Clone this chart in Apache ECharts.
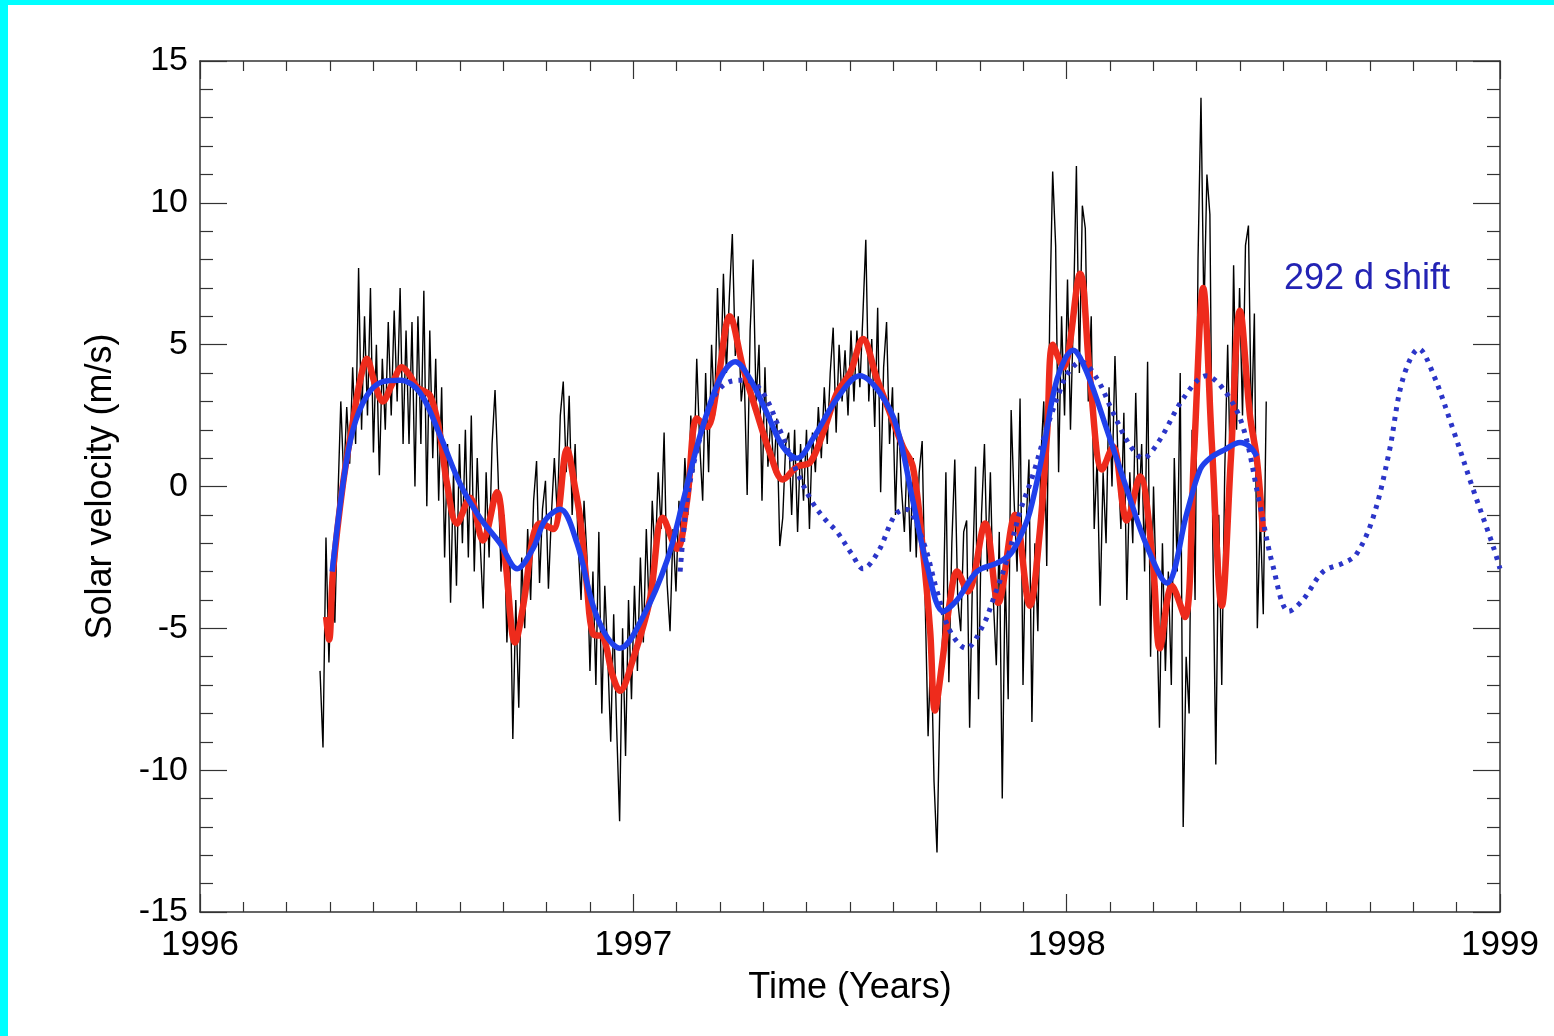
<!DOCTYPE html>
<html>
<head>
<meta charset="utf-8">
<script src="https://cdn.jsdelivr.net/npm/echarts@6/dist/echarts.min.js"></script>
<style>
html,body{margin:0;padding:0;background:#00ffff;width:1554px;height:1036px;overflow:hidden;}
#chart{position:absolute;left:8px;top:5px;width:1546px;height:1031px;background:#ffffff;}
</style>
</head>
<body>
<div id="chart"></div>
<script>
// ---- data ----
var xTickLabels = ['1996', '1997', '1998', '1999'];
var yTickLabels = ['-15', '-10', '-5', '0', '5', '10', '15'];

// raw velocity, sampled every 2.5 days starting 1996.277
var blackStart = 1996.277;
var blackStep = 0.006845;
var blackValues = [
 -6.5, -9.2, -1.8, -6.2, -2.5, -4.8, -0.5, 3.0, 0.2, 2.8,
 0.8, 4.2, 1.5, 7.7, 2.0, 6.0, 2.5, 7.0, 1.2, 5.0,
 0.4, 4.5, 2.0, 5.8, 2.5, 6.2, 3.0, 7.0, 1.5, 5.5,
 1.5, 5.8, 0.0, 6.0, 1.5, 6.9, -0.7, 5.5, 1.0, 4.5,
 -0.5, 3.5, -2.5, 1.5, -4.1, 0.5, -3.5, 1.5, -2.0, 2.0,
 -2.5, 2.5, -3.0, 1.0, -2.0, -4.3, 0.5, -2.5, 1.5, 3.4,
 0.5, -3.0, -1.0, -5.5, -2.5, -8.9, -4.0, -7.8, -2.5, -5.0,
 -1.5, -4.0, -0.5, 0.9, -3.4, -0.8, 0.2, -3.6, -1.0, 1.0,
 -1.0, 2.5, 3.7, 0.5, 3.2, -1.0, 1.5, -2.0, -4.0, -0.5,
 -2.5, -6.5, -3.0, -7.0, -1.6, -8.0, -3.5, -6.0, -9.0, -4.5,
 -8.5, -11.8, -5.0, -9.5, -4.0, -7.5, -3.5, -6.5, -2.5, -5.5,
 -1.5, -4.5, -0.5, -2.6, 0.5, -1.5, 1.9, -3.4, -5.1, -1.5,
 -3.7, -0.5, -2.0, 1.0, -1.0, 2.5, 0.5, 4.5, 1.5, -0.5,
 4.0, 0.5, 5.0, 2.5, 7.0, 3.5, 7.5, 4.0, 6.7, 8.9,
 4.6, 6.0, 3.0, 4.0, -0.3, 5.5, 8.0, 3.0, 5.0, -0.5,
 4.2, 0.7, 2.5, 0.5, 2.4, -2.1, -1.1, 1.5, 1.9, -1.0,
 2.0, -1.6, 1.5, -0.5, 2.0, -1.5, 1.9, 0.5, 2.8, 1.0,
 3.5, 1.5, 4.0, 5.6, 1.9, 5.0, 3.0, 4.8, 2.5, 5.5,
 3.0, 5.5, 3.5, 6.0, 8.7, 3.0, 5.2, 2.1, 6.3, -0.2,
 4.2, 5.8, 1.5, 3.5, -1.0, 2.6, 0.0, -1.6, 1.2, -2.3,
 1.0, -2.5, 0.5, 1.6, -4.0, -8.8, -5.5, -10.4, -12.9, -7.5,
 -5.0, 0.5, -6.9, -2.0, 0.95, -4.0, -5.1, -1.6, -1.2, -8.5,
 -3.0, 0.7, -7.5, -1.0, 1.5, -3.0, 0.5, -4.0, -6.3, -1.6,
 -11.0, -3.0, -7.5, 2.7, -0.5, -3.0, 3.1, -7.0, -1.5, 0.95,
 -8.3, -2.0, -5.1, 1.0, 3.0, -2.8, 6.0, 11.1, 8.5, 0.5,
 6.0, 2.5, 7.3, 2.0, 6.1, 11.3, 4.0, 9.9, 9.1, 3.0,
 6.0, -1.5, 1.0, -4.2, 0.5, -2.0, 3.5, 0.0, 4.6, 1.0,
 -1.5, 2.6, -4.0, 0.5, -2.0, 3.3, -1.0, 1.5, -3.0, 4.4,
 -6.0, 0.0, -4.0, -8.5, -2.0, -6.5, -3.0, -7.0, 1.0, -3.0,
 4.0, -12.0, -6.0, -8.0, 2.0, -4.0, 8.0, 13.7, 6.0, 11.0,
 9.6, -2.0, -9.8, -1.0, -7.0, 0.5, 5.0, 0.0, 7.8, 2.0,
 7.0, 2.5, 8.5, 9.2, 2.0, 6.1, -5.0, -1.0, -4.5, 3.0
];

// red filtered curve
var redYears = [1996.291,1996.298,1996.307,1996.330,1996.353,1996.369,1996.385,1996.404,1996.422,1996.443,
 1996.466,1996.485,1996.501,1996.531,1996.554,1996.570,1996.593,1996.623,1996.653,1996.685,
 1996.706,1996.727,1996.748,1996.768,1996.785,1996.815,1996.847,1996.865,1996.877,1996.893,
 1996.907,1996.930,1996.951,1996.969,1996.999,1997.038,1997.068,1997.101,1997.124,1997.147,
 1997.170,1997.193,1997.223,1997.253,1997.285,1997.315,1997.345,1997.378,1997.408,1997.438,
 1997.470,1997.500,1997.530,1997.562,1997.592,1997.622,1997.645,1997.668,1997.685,1997.696,
 1997.712,1997.731,1997.747,1997.772,1997.812,1997.842,1997.881,1997.915,1997.938,1997.955,
 1997.968,1997.992,1998.031,1998.054,1998.082,1998.107,1998.139,1998.169,1998.199,1998.215,
 1998.243,1998.273,1998.294,1998.315,1998.335,1998.358,1998.379,1998.400,1998.423,1998.439,1998.453];
var redValues = [-4.6,-5.4,-3.0,0.1,2.3,3.7,4.5,3.6,3.0,3.6,
 4.2,3.9,3.5,3.2,1.8,0.1,-1.3,-0.4,-1.9,-0.2,
 -2.8,-5.5,-4.0,-1.8,-1.3,-1.5,1.3,0.0,-1.1,-3.5,
 -5.2,-5.3,-6.6,-7.2,-6.1,-4.0,-1.1,-2.2,-0.5,2.4,
 2.1,3.5,6.0,4.2,2.6,1.2,0.25,0.7,0.85,1.9,
 3.3,4.0,5.2,3.8,2.6,1.4,0.7,-2.2,-5.1,-7.9,
 -6.3,-4.0,-3.0,-3.7,-1.3,-4.1,-1.0,-4.2,-1.6,1.9,
 5.0,4.2,7.5,3.8,0.6,1.4,-1.2,0.35,-2.7,-5.7,
 -3.5,-4.6,1.2,7.0,1.5,-4.2,1.0,6.2,2.5,0.95,-1.6];

// blue smoothed curve
var blueYears = [1996.305,1996.330,1996.353,1996.385,1996.422,1996.462,1996.508,1996.554,1996.600,1996.646,
 1996.692,1996.732,1996.768,1996.796,1996.831,1996.870,1996.907,1996.939,1996.969,1997.022,
 1997.078,1997.115,1997.154,1997.200,1997.235,1997.269,1997.308,1997.345,1997.378,1997.415,
 1997.470,1997.523,1997.569,1997.608,1997.645,1997.678,1997.715,1997.747,1997.793,1997.839,
 1997.869,1997.892,1997.915,1997.945,1997.978,1998.015,1998.047,1998.093,1998.139,1998.185,
 1998.231,1998.278,1998.308,1998.331,1998.365,1998.400,1998.423,1998.439];
var blueValues = [-3.0,0.1,2.0,3.2,3.7,3.75,3.3,1.8,0.1,-1.1,
 -2.0,-2.9,-2.2,-1.2,-0.8,-2.0,-4.2,-5.3,-5.7,-4.6,
 -2.6,-0.5,1.8,3.8,4.4,3.8,2.6,1.4,1.0,1.7,
 3.1,3.9,3.3,2.1,-0.5,-2.8,-4.4,-4.0,-3.0,-2.7,
 -2.4,-1.8,-0.9,1.2,3.8,4.8,4.0,2.0,-0.1,-2.1,
 -3.4,-0.9,0.6,1.0,1.3,1.55,1.4,1.06];

// blue curve shifted by 292 days (dotted)
var shiftYears = [1997.108,1997.124,1997.147,1997.184,1997.223,1997.260,1997.299,1997.338,1997.378,1997.415,
 1997.445,1997.470,1997.505,1997.530,1997.565,1997.604,1997.629,1997.668,1997.701,1997.731,
 1997.768,1997.807,1997.830,1997.862,1997.892,1997.922,1997.955,1997.985,1998.003,1998.033,
 1998.070,1998.107,1998.144,1998.176,1998.213,1998.269,1998.322,1998.368,1998.407,1998.444,
 1998.476,1998.513,1998.545,1998.592,1998.638,1998.668,1998.707,1998.744,1998.776,1998.813,
 1998.845,1998.892,1998.938,1998.984,1999.000];
var shiftValues = [-3.0,-0.5,1.3,3.1,3.7,3.75,3.3,2.0,0.5,-0.6,
 -1.2,-1.6,-2.4,-2.9,-2.3,-1.0,-0.8,-1.9,-3.7,-5.1,
 -5.7,-4.9,-4.0,-2.6,-0.9,0.4,2.1,3.4,4.0,4.4,
 3.8,2.6,1.5,1.0,1.6,3.1,3.9,3.3,2.1,-0.5,
 -2.8,-4.4,-4.0,-3.0,-2.7,-2.4,-1.1,1.2,3.8,4.85,
 4.0,2.0,-0.1,-2.1,-2.9];

var annotationText = '292 d shift';

// ---- build series ----
function pairs(xs, ys) { return xs.map(function (x, i) { return [x, ys[i]]; }); }
var blackData = blackValues.map(function (v, i) { return [blackStart + i * blackStep, v]; });

var FONT = 'Liberation Sans, Arial, sans-serif';
var chart = echarts.init(document.getElementById('chart'), null, {renderer: 'canvas'});

function xAxisDef(pos, showLabel) {
  return {
    type: 'value', position: pos, min: 1996, max: 1999, interval: 1,
    axisLine: {show: true, onZero: false, lineStyle: {color: '#333', width: 1.5}},
    axisTick: {show: true, inside: true, length: 18, lineStyle: {color: '#333', width: 1.2}},
    minorTick: {show: true, splitNumber: 10, length: 10, lineStyle: {color: '#333', width: 1.2}},
    splitLine: {show: false},
    axisLabel: {show: showLabel, margin: 16, color: '#000', fontSize: 35, fontFamily: FONT,
      formatter: function (v) { return xTickLabels[Math.round(v - 1996)]; }},
    name: showLabel ? 'Time (Years)' : '', nameLocation: 'middle', nameGap: 58,
    nameTextStyle: {color: '#000', fontSize: 36, fontFamily: FONT}
  };
}
function yAxisDef(pos, showLabel) {
  return {
    type: 'value', position: pos, min: -15, max: 15, interval: 5,
    axisLine: {show: true, onZero: false, lineStyle: {color: '#333', width: 1.5}},
    axisTick: {show: true, inside: true, length: 27, lineStyle: {color: '#333', width: 1.2}},
    minorTick: {show: true, splitNumber: 5, length: 13, lineStyle: {color: '#333', width: 1.2}},
    splitLine: {show: false},
    axisLabel: {show: showLabel, margin: 12, color: '#000', fontSize: 34, fontFamily: FONT,
      formatter: function (v) { return yTickLabels[Math.round((v + 15) / 5)]; }},
    name: showLabel ? 'Solar velocity (m/s)' : '', nameLocation: 'middle', nameGap: 81, nameRotate: 90,
    nameTextStyle: {color: '#000', fontSize: 36, fontFamily: FONT}
  };
}

chart.setOption({
  animation: false,
  backgroundColor: '#ffffff',
  grid: {left: 192, top: 56, right: 54, bottom: 124, containLabel: false},
  xAxis: [xAxisDef('bottom', true), xAxisDef('top', false)],
  yAxis: [yAxisDef('left', true), yAxisDef('right', false)],
  graphic: [{
    type: 'text', left: 1276, top: 256,
    style: {text: annotationText, fill: '#2323b4', font: '36px ' + FONT}
  }],
  series: [
    {type: 'line', name: 'raw', data: blackData, showSymbol: false, symbol: 'none',
     lineStyle: {color: '#000', width: 1.4}, z: 1},
    {type: 'line', name: 'red', data: pairs(redYears, redValues), showSymbol: false, symbol: 'none',
     smooth: 0.35, lineStyle: {color: '#ee2b1c', width: 6.5}, z: 2},
    {type: 'line', name: 'shift', data: pairs(shiftYears, shiftValues), showSymbol: false, symbol: 'none',
     smooth: 0.35, lineStyle: {color: '#2b35c8', width: 5, type: [4, 6], cap: 'butt'}, z: 3},
    {type: 'line', name: 'blue', data: pairs(blueYears, blueValues), showSymbol: false, symbol: 'none',
     smooth: 0.35, lineStyle: {color: '#2040ec', width: 5.5}, z: 4}
  ]
});
</script>
</body>
</html>
